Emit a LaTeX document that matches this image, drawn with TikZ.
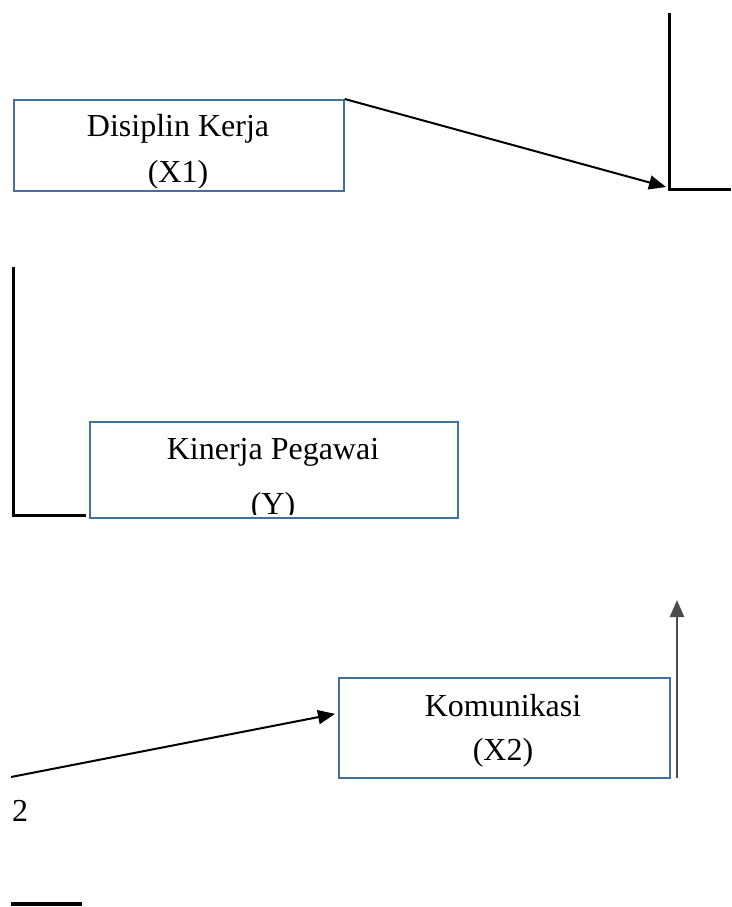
\documentclass[tikz,border=0pt]{standalone}
\usepackage{fontspec}
\setmainfont{Liberation Serif}
\usetikzlibrary{arrows.meta,positioning}
\definecolor{boxblue}{RGB}{65,113,156}

\begin{document}
\begin{tikzpicture}[
  x=1pt,y=-1pt,
  var/.style={rectangle,draw=boxblue,line width=1.7pt,inner sep=0pt,anchor=north west},
  lbl/.style={font=\fontsize{32}{46}\selectfont,align=center,inner sep=0pt,anchor=north},
  link/.style={draw,line width=2pt,-{Triangle[length=17pt,width=14pt]}},
  rule/.style={draw,line width=3pt}
]
\useasboundingbox (0,0) rectangle (731,907);

% variable boxes
\node[var,minimum width=330pt,minimum height=91pt] (x1) at (13,99) {};
\node[var,minimum width=368pt,minimum height=96pt] (y) at (89,421) {};
\node[var,minimum width=331pt,minimum height=100pt] (x2) at (338,677) {};

% box texts, cut off a little above the box edge
\begin{scope}
\clip (x1.north west) rectangle ([yshift=4pt]x1.south east);
\node[lbl] (x1txt) at (178,114) {Disiplin Kerja\\(X1)};
\end{scope}
\begin{scope}
\clip (y.north west) rectangle ([yshift=4pt]y.south east);
\node[lbl,font=\fontsize{32}{55}\selectfont] (ytxt) at (273,438) {Kinerja Pegawai\\(Y)};
\end{scope}
\begin{scope}
\clip (x2.north west) rectangle ([yshift=4pt]x2.south east);
\node[lbl,font=\fontsize{32}{44}\selectfont] (x2txt) at (503,694) {Komunikasi\\(X2)};
\end{scope}

% loose corner lines
\coordinate (r1) at (669,13);
\coordinate (r2) at (669,189);
\coordinate (r3) at (731,189);
\draw[rule] (r1) -- (r2) -- (r3);
\coordinate (l1) at (13,267);
\coordinate (l2) at (13,515);
\coordinate (l3) at (86,515);
\draw[rule] (l1) -- (l2) -- (l3);

% arrows
\coordinate (a1) at (666,187);
\draw[link] (x1.north east) -- (a1);
\coordinate (s2) at (11,777);
\draw[link] (s2) -- ([xshift=-3pt,yshift=14pt]x2.west);
\coordinate (u1) at (677,778);
\coordinate (u2) at (677,600);
\draw[link,draw=black!70,line width=2.6pt] (u1) -- (u2);

% stray page bits
\node[anchor=base west,font=\fontsize{32}{38}\selectfont,inner sep=0pt] (pg) at (12,821) {2};
\coordinate (b1) at (11,904);
\coordinate (b2) at (82,904);
\draw[line width=3.5pt] (b1) -- (b2);
\end{tikzpicture}
\end{document}
